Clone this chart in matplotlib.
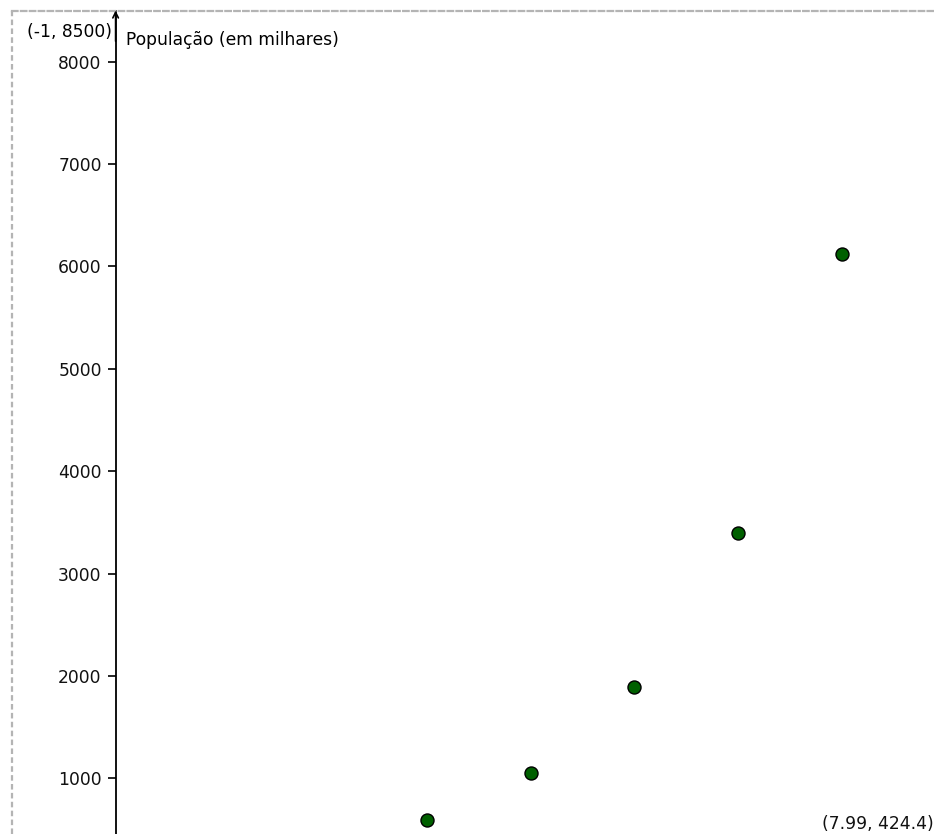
import matplotlib
matplotlib.use("Agg")
import matplotlib.pyplot as plt
from matplotlib.lines import Line2D

# ---- data ----
anos = [3, 4, 5, 6, 7]
populacao = [593, 1049, 1887, 3400, 6121]
y_ticks = [1000, 2000, 3000, 4000, 5000, 6000, 7000, 8000]
y_tick_labels = ["1000", "2000", "3000", "4000", "5000", "6000", "7000", "8000"]
x_min, x_max = -1, 7.99
y_min, y_max = 424.4, 8500
y_label = "População (em milhares)"
corner_tl = "(-1, 8500)"
corner_br = "(7.99, 424.4)"

W, H = 934, 834
fig = plt.figure(figsize=(W / 100, H / 100), dpi=100)
plt.rcParams['font.family'] = ['DejaVu Sans']
FS = 12.3

px_x = 103.75
x0_px = 115.6
left_px = x0_px - (0 - x_min) * px_x
width_px = (x_max - x_min) * px_x
px_y = 0.10237
top_px = 10.5
height_px = (y_max - y_min) * px_y
ax = fig.add_axes([left_px / W, (H - top_px - height_px) / H, width_px / W, height_px / H])
ax.set_xlim(x_min, x_max)
ax.set_ylim(y_min, y_max)
ax.patch.set_alpha(0)

for s in ['right', 'bottom']:
    ax.spines[s].set_visible(False)
ax.spines['top'].set_linestyle((0, (2.5, 1.5)))
ax.spines['top'].set_color('#b4b4b4')
ax.spines['top'].set_linewidth(1.6)
ax.spines['left'].set_position(('data', 0))
ax.spines['left'].set_linewidth(1.3)
ax.spines['left'].set_color('black')

ax.set_xticks([])
ax.set_yticks(y_ticks)
ax.set_yticklabels(y_tick_labels, fontsize=FS, color='#111111')
ax.tick_params(axis='y', direction='out', length=5.5, width=1.2, pad=4.5)

# arrow head at top of y-axis
ax.annotate('', xy=(0, y_max), xytext=(0, y_max - 300),
            arrowprops=dict(arrowstyle='->', lw=1.2, color='black',
                            mutation_scale=10, shrinkA=0, shrinkB=0))

# points
ax.scatter(anos, populacao, s=88, color='#006000', edgecolors='black',
           linewidths=1.0, zorder=5, clip_on=False)

# left dashed border of the view
fig.add_artist(Line2D([11.5 / W, 11.5 / W], [0, (H - 10.5) / H],
                      linestyle=(0, (2.5, 1.5)), color='#b4b4b4', linewidth=1.6))

fig.text(126 / W, 1 - 45 / H, y_label, fontsize=FS, color='black',
         ha='left', va='baseline')
fig.text(112 / W, 1 - 37 / H, corner_tl, fontsize=FS, color='black',
         ha='right', va='baseline')
fig.text(934 / W, 1 - 829 / H, corner_br, fontsize=FS, color='#111111',
         ha='right', va='baseline')

fig.savefig("out.png", dpi=100)
